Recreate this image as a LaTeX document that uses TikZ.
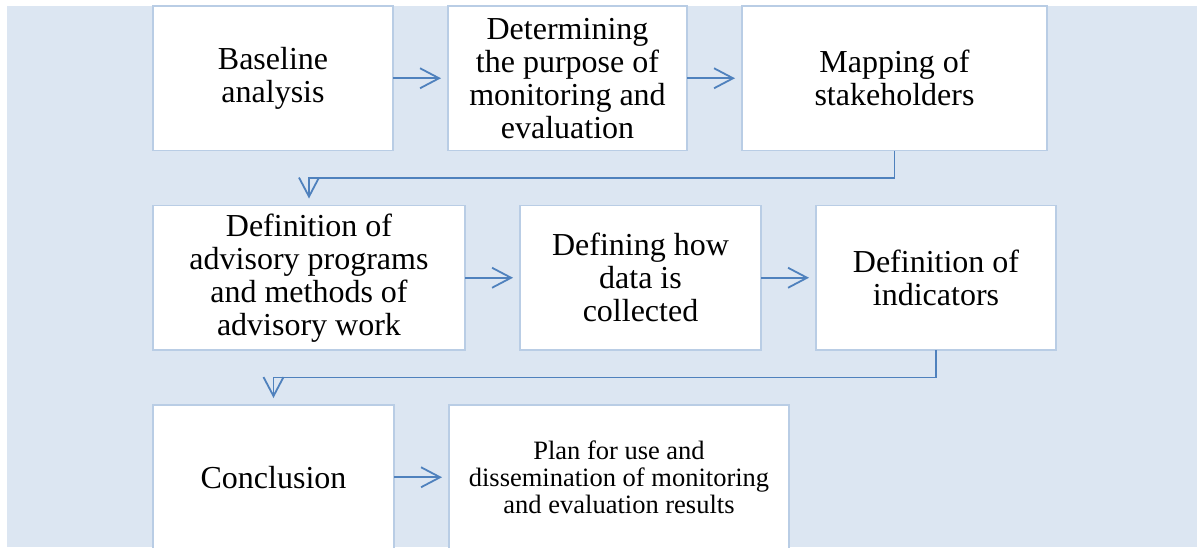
\documentclass[tikz,border=0pt]{standalone}
\usepackage{fontspec}
\setmainfont{Liberation Serif}
\usepackage{tikz}
\usetikzlibrary{positioning, arrows.meta}
\definecolor{panel}{HTML}{DCE6F2}
\definecolor{edge}{HTML}{B9CDE5}
\definecolor{accent}{HTML}{4F81BD}
\tikzset{
  stepbox/.style={draw=edge, line width=1.2pt, fill=white, text=black,
    font=\fontsize{32}{33}\selectfont, align=center,
    inner sep=4pt, outer sep=0pt, minimum height=144.5pt},
  stepsmall/.style={stepbox, font=\fontsize{26.5}{27}\selectfont},
  flow/.style={-{Straight Barb[length=19pt, width=20pt, line width=1.8pt]},
    line width=1.8pt, color=accent, shorten >=7pt},
}
\begin{document}
\begin{tikzpicture}[x=1pt, y=-1pt, node distance=55pt and 55pt]
  \useasboundingbox (0,0) rectangle (1197,547);
  \fill[panel] (7,6) rectangle (1197,547);
  \begin{scope}
  \clip (0,0) rectangle (1197,547);
  % row 1
  \node[stepbox, minimum width=240pt, anchor=north west] (base) at (153,6) {Baseline\\analysis};
  \node[stepbox, right=of base, minimum width=239pt] (purpose) {Determining\\the purpose of\\monitoring and\\evaluation};
  \node[stepbox, right=of purpose, minimum width=305pt] (stake) {Mapping of\\stakeholders};
  % row 2
  \node[stepbox, below=of base.south west, anchor=north west, minimum width=312pt] (progs) {Definition of\\advisory programs\\and methods of\\advisory work};
  \node[stepbox, right=of progs, minimum width=241pt] (data) {Defining how\\data is\\collected};
  \node[stepbox, right=of data, minimum width=240pt] (indic) {Definition of\\indicators};
  % row 3
  \node[stepbox, below=of progs.south west, anchor=north west, minimum width=241pt] (concl) {Conclusion};
  \node[stepsmall, right=of concl, minimum width=340pt] (plan) {Plan for use and\\dissemination of monitoring\\and evaluation results};
  \end{scope}
  \draw[flow] (base) -- (purpose);
  \draw[flow] (purpose) -- (stake);
  \draw[flow] (stake.south) -- ++(0,-27.5pt) -| (progs.north);
  \draw[flow] (progs) -- (data);
  \draw[flow] (data) -- (indic);
  \draw[flow] (indic.south) -- ++(0,-27.5pt) -| (concl.north);
  \draw[flow] (concl) -- (plan);
\end{tikzpicture}
\end{document}
